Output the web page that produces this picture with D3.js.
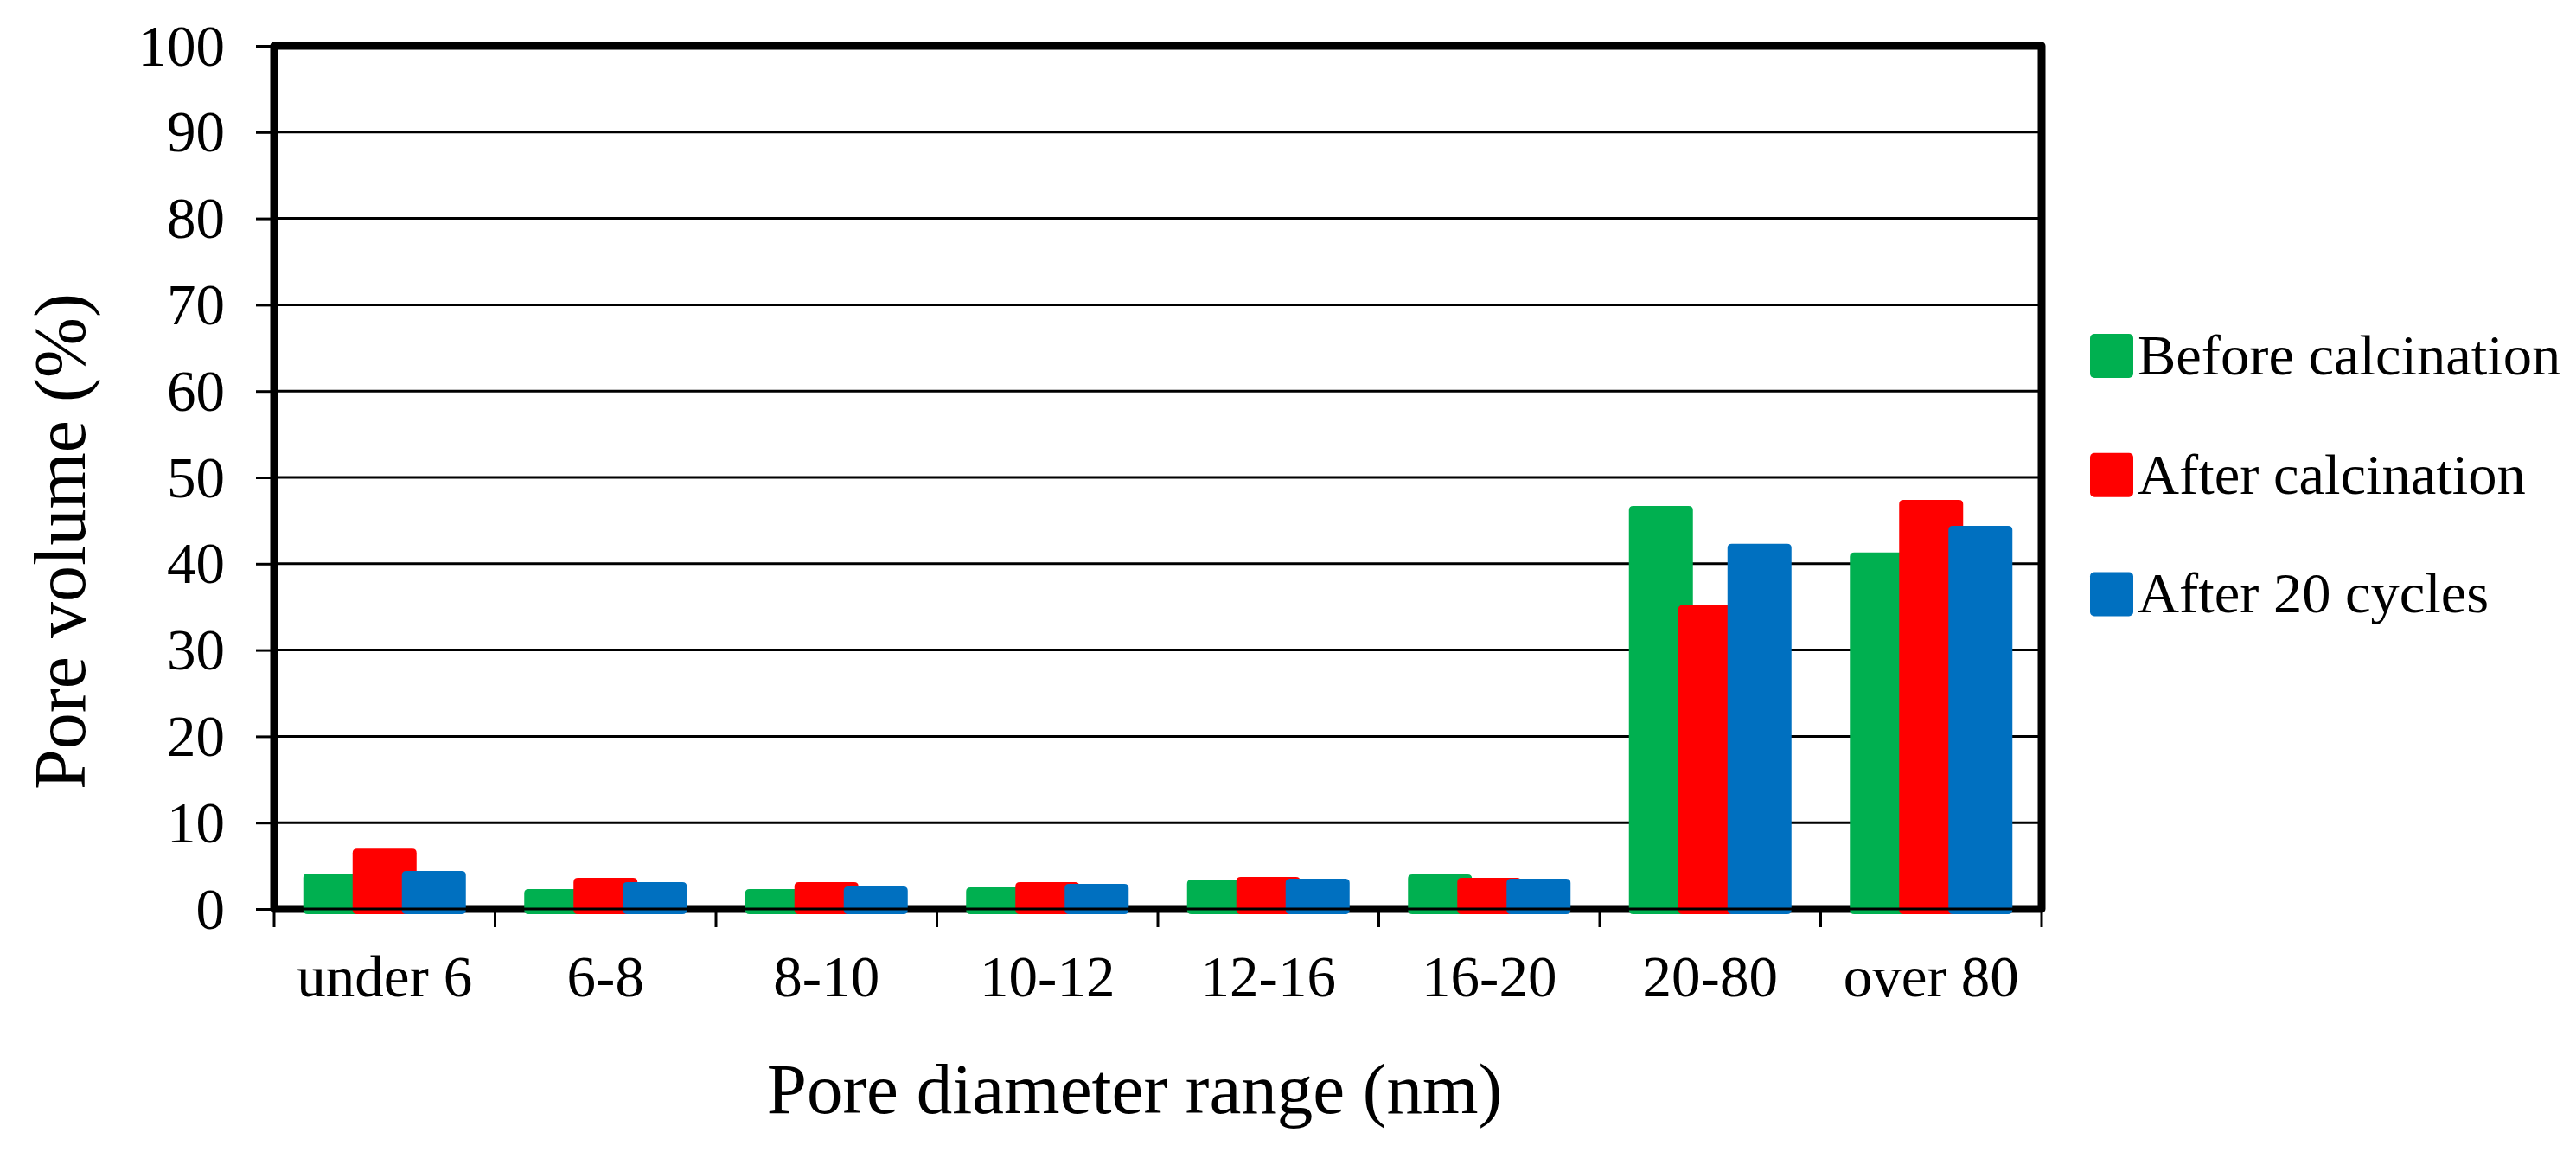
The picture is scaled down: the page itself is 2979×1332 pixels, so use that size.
<!DOCTYPE html>
<html>
<head>
<meta charset="utf-8">
<script src="https://cdn.jsdelivr.net/npm/d3@7"></script>
<style>
  html, body { margin: 0; padding: 0; background: #fff; }
  svg { display: block; }
  text { font-family: "Liberation Serif", "Times New Roman", serif; fill: #000; }
</style>
</head>
<body>
<svg id="chart" width="2979" height="1332"></svg>
<script>
// ---- data ----
const categories = ["under 6", "6-8", "8-10", "10-12", "12-16", "16-20", "20-80", "over 80"];
const seriesNames = ["Before calcination", "After calcination", "After 20 cycles"];
const seriesColors = ["#00B050", "#FF0000", "#0070C0"];
const beforeCalcination = [4.1, 2.3, 2.3, 2.5, 3.4, 4.0, 46.7, 41.3];
const afterCalcination  = [7.0, 3.6, 3.1, 3.1, 3.7, 3.6, 35.2, 47.4];
const after20Cycles     = [4.4, 3.1, 2.6, 2.9, 3.5, 3.5, 42.3, 44.4];
const yTicks = [0, 10, 20, 30, 40, 50, 60, 70, 80, 90, 100];
const yTitle = "Pore volume (%)";
const xTitle = "Pore diameter range (nm)";

const seriesValues = [beforeCalcination, afterCalcination, after20Cycles];

// ---- layout ----
const svg = d3.select("#chart");
const plot = { left: 317, right: 2361, top: 53, bottom: 1051 };

const x = d3.scaleBand().domain(categories).range([plot.left, plot.right]).padding(0);
const y = d3.scaleLinear().domain([0, 100]).range([plot.bottom, plot.top]);

const barW = 74, barStep = 57;
const groupW = barStep * (seriesNames.length - 1) + barW;

// gridlines
svg.append("g").selectAll("line").data(yTicks.filter(d => d > 0 && d < 100)).join("line")
  .attr("x1", plot.left).attr("x2", plot.right)
  .attr("y1", d => y(d)).attr("y2", d => y(d))
  .attr("stroke", "#000").attr("stroke-width", 3);

// y axis (ticks + labels) via d3.axisLeft
const yAxis = svg.append("g").attr("transform", `translate(${plot.left},0)`)
  .call(d3.axisLeft(y).tickValues(yTicks).tickSize(21).tickPadding(0).tickFormat(d3.format("d")));
yAxis.select(".domain").remove();
yAxis.selectAll(".tick line").attr("stroke", "#000").attr("stroke-width", 3);
yAxis.selectAll(".tick text")
  .attr("x", -57).attr("dy", null).attr("y", 22)
  .style("font-family", '"Liberation Serif", "Times New Roman", serif')
  .style("font-size", "67px").attr("fill", "#000");

// x axis ticks at category boundaries
const xBounds = categories.map(c => x(c)).concat([x(categories[categories.length - 1]) + x.bandwidth()]);
svg.append("g").selectAll("line").data(xBounds).join("line")
  .attr("x1", d => d).attr("x2", d => d)
  .attr("y1", plot.bottom + 4).attr("y2", plot.bottom + 21)
  .attr("stroke", "#000").attr("stroke-width", 3);

// plot border (thick)
svg.append("rect")
  .attr("x", plot.left).attr("y", plot.top)
  .attr("width", plot.right - plot.left).attr("height", plot.bottom - plot.top)
  .attr("fill", "none").attr("stroke", "#000").attr("stroke-width", 9)
  .attr("stroke-linejoin", "round");

// bars
const roundedTop = (x0, y0, w, h, r) => {
  return `M${x0},${y0 + r} Q${x0},${y0} ${x0 + r},${y0} L${x0 + w - r},${y0} Q${x0 + w},${y0} ${x0 + w},${y0 + r}` +
         ` L${x0 + w},${y0 + h - r} Q${x0 + w},${y0 + h} ${x0 + w - r},${y0 + h} L${x0 + r},${y0 + h} Q${x0},${y0 + h} ${x0},${y0 + h - r} Z`;
};
seriesValues.forEach((vals, si) => {
  svg.append("g").selectAll("path").data(vals).join("path")
    .attr("d", (v, i) => {
      const cx = x(categories[i]) + x.bandwidth() / 2;
      const x0 = cx - groupW / 2 + si * barStep;
      const y0 = y(v);
      const h = (y(0) + 6) - y0;
      return roundedTop(x0, y0, barW, h, 5);
    })
    .attr("fill", seriesColors[si]);
});

// thin zero line over bars
svg.append("line")
  .attr("x1", plot.left).attr("x2", plot.right)
  .attr("y1", y(0)).attr("y2", y(0))
  .attr("stroke", "#000").attr("stroke-width", 3);

// category labels
svg.append("g").selectAll("text").data(categories).join("text")
  .attr("x", d => x(d) + x.bandwidth() / 2)
  .attr("y", 1152)
  .attr("text-anchor", "middle")
  .style("font-size", "67px")
  .text(d => d);

// axis titles
svg.append("text")
  .attr("x", 1312).attr("y", 1287)
  .attr("text-anchor", "middle")
  .style("font-size", "83px")
  .text(xTitle);

svg.append("text")
  .attr("transform", "translate(98,626) rotate(-90)")
  .attr("text-anchor", "middle")
  .style("font-size", "84px")
  .text(yTitle);

// legend
const legend = svg.append("g");
seriesNames.forEach((name, i) => {
  const ly = 386 + i * 137.7;
  legend.append("rect")
    .attr("x", 2417).attr("y", ly).attr("width", 50).attr("height", 51)
    .attr("rx", 5).attr("ry", 5)
    .attr("fill", seriesColors[i]);
  legend.append("text")
    .attr("x", 2472).attr("y", ly + 47)
    .style("font-size", "66.5px")
    .text(name);
});
</script>
</body>
</html>
